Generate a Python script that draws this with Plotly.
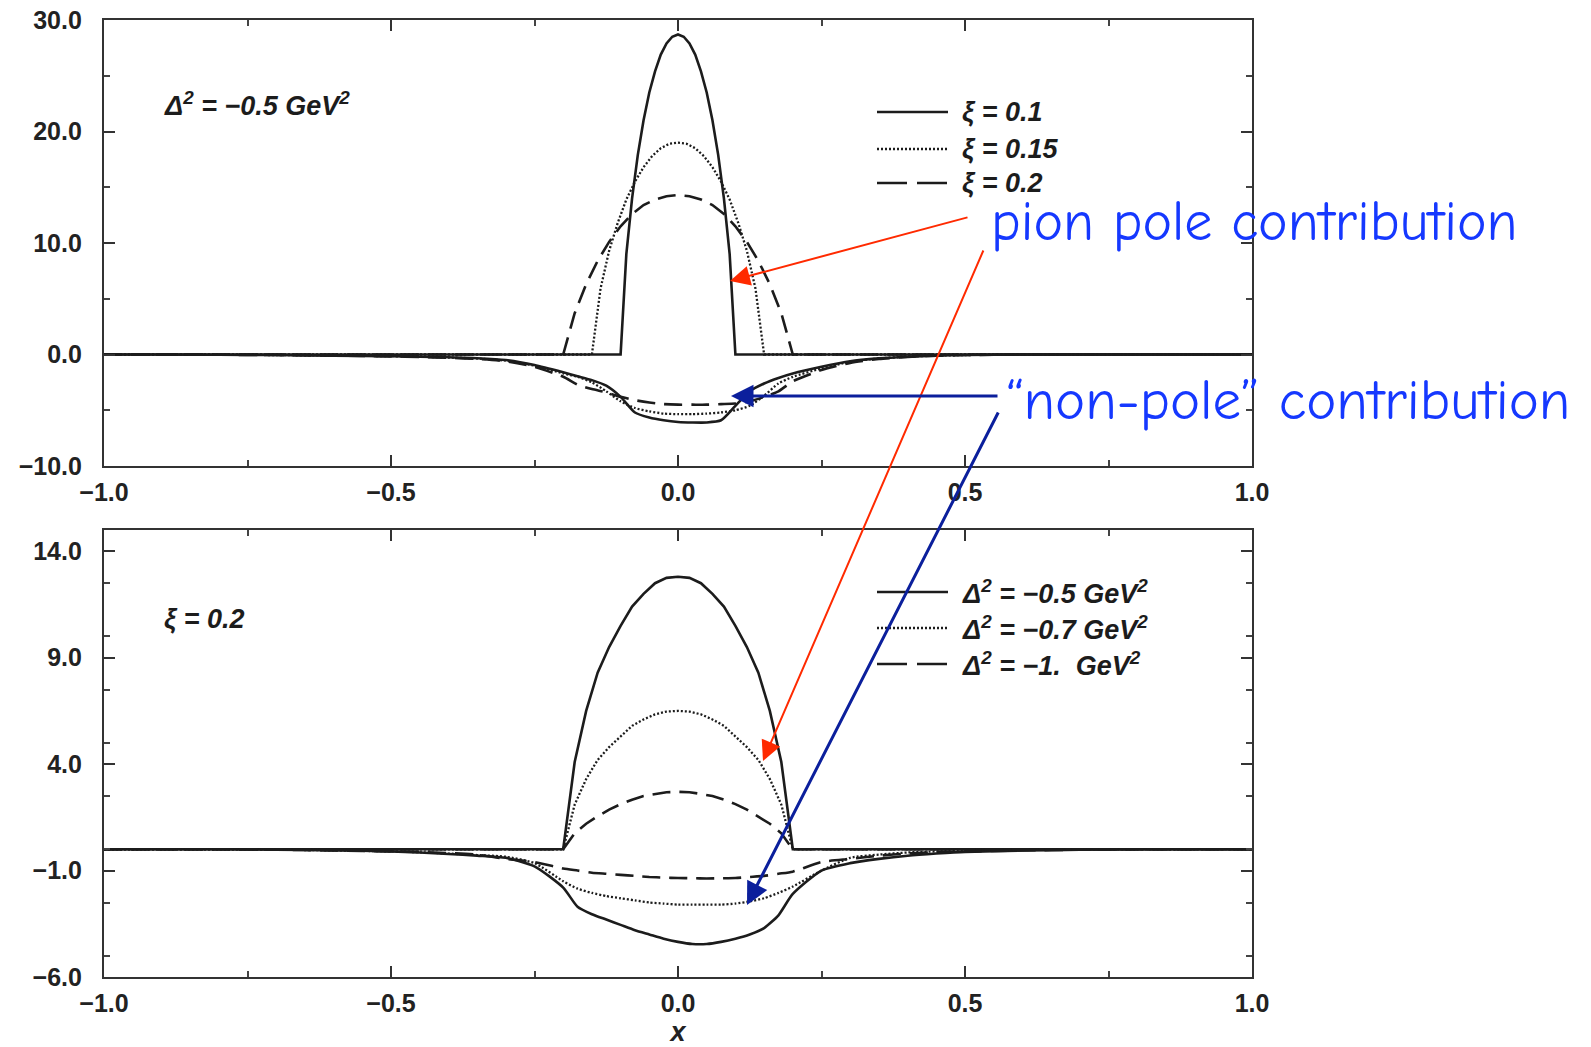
import plotly.graph_objects as go

W, H = 1591, 1047

# ---------------- data ----------------
# common x grid for the "non-pole" (negative) contributions
x_np = [-1.0, -0.9, -0.8, -0.7, -0.6, -0.5, -0.45, -0.4, -0.35, -0.3,
        -0.25, -0.2, -0.175, -0.15, -0.125, -0.1, -0.075, -0.05, -0.025, 0.0,
        0.025, 0.05, 0.075, 0.1, 0.125, 0.15, 0.175, 0.2, 0.25, 0.3,
        0.35, 0.4, 0.45, 0.5, 0.6, 0.7, 0.8, 0.9, 1.0]

# top panel: Delta^2 = -0.5 GeV^2, xi = 0.1 / 0.15 / 0.2
x_pole_xi010 = [-1.0, -0.10, -0.09, -0.08, -0.07, -0.06, -0.05, -0.04, -0.03, -0.02, -0.01, 0.0,
                0.01, 0.02, 0.03, 0.04, 0.05, 0.06, 0.07, 0.08, 0.09, 0.10, 1.0]
y_pole_xi010 = [0, 0, 9.0, 14.0, 17.9, 21.0, 23.5, 25.4, 26.9, 27.9, 28.5, 28.7,
                28.5, 27.9, 26.9, 25.4, 23.5, 21.0, 17.9, 14.0, 9.0, 0, 0]

x_pole_xi015 = [-1.0, -0.15, -0.135, -0.12, -0.105, -0.09, -0.075, -0.06, -0.045, -0.03, -0.015, 0.0,
                0.015, 0.03, 0.045, 0.06, 0.075, 0.09, 0.105, 0.12, 0.135, 0.15, 1.0]
y_pole_xi015 = [0, 0, 5.9, 9.3, 11.8, 13.9, 15.5, 16.8, 17.8, 18.5, 18.9, 19.0,
                18.9, 18.5, 17.8, 16.8, 15.5, 13.9, 11.8, 9.3, 5.9, 0, 0]

x_pole_xi020 = [-1.0, -0.20, -0.18, -0.16, -0.14, -0.12, -0.10, -0.08, -0.06, -0.04, -0.02, 0.0,
                0.02, 0.04, 0.06, 0.08, 0.10, 0.12, 0.14, 0.16, 0.18, 0.20, 1.0]
y_pole_xi020 = [0, 0, 3.7, 6.3, 8.4, 10.1, 11.5, 12.6, 13.4, 13.9, 14.2, 14.3,
                14.2, 13.9, 13.4, 12.6, 11.5, 10.1, 8.4, 6.3, 3.7, 0, 0]

y_np_xi010 = [0, 0, -0.02, -0.05, -0.1, -0.15, -0.2, -0.25, -0.33, -0.5,
              -0.95, -1.6, -1.95, -2.3, -2.8, -3.8, -5.2, -5.65, -5.9, -6.05,
              -6.1, -6.1, -5.9, -4.6, -3.3, -2.6, -2.1, -1.7, -1.1, -0.6,
              -0.35, -0.2, -0.1, -0.05, 0, 0, 0, 0, 0]
y_np_xi015 = [0, 0, -0.02, -0.05, -0.1, -0.15, -0.2, -0.27, -0.36, -0.55,
              -1.0, -1.7, -2.0, -2.5, -3.3, -4.2, -4.8, -5.1, -5.3, -5.35,
              -5.35, -5.3, -5.2, -5.0, -4.6, -3.7, -2.6, -2.0, -1.25, -0.65,
              -0.35, -0.2, -0.1, -0.05, 0, 0, 0, 0, 0]
y_np_xi020 = [0, 0, -0.02, -0.05, -0.1, -0.17, -0.22, -0.3, -0.4, -0.6,
              -1.1, -2.0, -2.7, -3.1, -3.4, -3.8, -4.1, -4.3, -4.45, -4.5,
              -4.5, -4.5, -4.45, -4.4, -4.2, -3.8, -3.3, -2.4, -1.4, -0.75,
              -0.4, -0.22, -0.1, -0.05, 0, 0, 0, 0, 0]

# bottom panel: xi = 0.2, Delta^2 = -0.5 / -0.7 / -1.0 GeV^2
x_pole_b = [-1.0, -0.20, -0.18, -0.16, -0.14, -0.12, -0.10, -0.08, -0.06, -0.04, -0.02, 0.0,
            0.02, 0.04, 0.06, 0.08, 0.10, 0.12, 0.14, 0.16, 0.18, 0.20, 1.0]
y_pole_d05 = [0, 0, 4.1, 6.5, 8.3, 9.5, 10.5, 11.4, 12.0, 12.5, 12.75, 12.8,
              12.75, 12.5, 12.0, 11.4, 10.5, 9.5, 8.3, 6.5, 4.1, 0, 0]
y_pole_d07 = [0, 0, 2.1, 3.3, 4.2, 4.8, 5.3, 5.8, 6.1, 6.34, 6.47, 6.5,
              6.47, 6.34, 6.1, 5.8, 5.3, 4.8, 4.2, 3.3, 2.1, 0, 0]
y_pole_d10 = [0, 0, 0.75, 1.2, 1.55, 1.86, 2.12, 2.33, 2.5, 2.6, 2.68, 2.7,
              2.68, 2.6, 2.5, 2.33, 2.12, 1.86, 1.55, 1.2, 0.75, 0, 0]

y_np_d05 = [0, 0, 0, -0.02, -0.05, -0.1, -0.15, -0.22, -0.3, -0.4,
            -0.8, -1.8, -2.7, -3.05, -3.3, -3.55, -3.8, -4.0, -4.2, -4.35,
            -4.45, -4.45, -4.35, -4.2, -4.0, -3.7, -3.1, -2.1, -1.0, -0.65,
            -0.45, -0.3, -0.2, -0.12, -0.06, -0.02, 0, 0, 0]
y_np_d07 = [0, 0, 0, -0.02, -0.05, -0.1, -0.14, -0.2, -0.27, -0.35,
            -0.65, -1.5, -1.85, -2.05, -2.2, -2.3, -2.4, -2.5, -2.55, -2.6,
            -2.6, -2.6, -2.6, -2.55, -2.45, -2.3, -2.05, -1.75, -1.0, -0.4,
            -0.25, -0.15, -0.1, -0.07, -0.03, 0, 0, 0, 0]
y_np_d10 = [0, 0, 0, -0.02, -0.05, -0.1, -0.13, -0.18, -0.25, -0.45,
            -0.6, -0.9, -1.0, -1.1, -1.15, -1.2, -1.25, -1.3, -1.33, -1.35,
            -1.36, -1.37, -1.36, -1.35, -1.3, -1.25, -1.15, -1.05, -0.6, -0.45,
            -0.3, -0.2, -0.13, -0.1, -0.05, -0.02, 0, 0, 0]

top_labels = ["ξ = 0.1", "ξ = 0.15", "ξ = 0.2"]
bot_labels = ["Δ<sup>2</sup> = −0.5 GeV<sup>2</sup>", "Δ<sup>2</sup> = −0.7 GeV<sup>2</sup>",
              "Δ<sup>2</sup> = −1.  GeV<sup>2</sup>"]

# ---------------- styles ----------------
INK = "#1c1c1c"
STY = [dict(color=INK, width=2.6, dash="solid"),
       dict(color=INK, width=2.3, dash="2px,2px"),
       dict(color=INK, width=2.6, dash="18px,9px")]

fig = go.Figure()

top_pole = [(x_pole_xi010, y_pole_xi010), (x_pole_xi015, y_pole_xi015), (x_pole_xi020, y_pole_xi020)]
top_np = [y_np_xi010, y_np_xi015, y_np_xi020]
bot_pole = [(x_pole_b, y_pole_d05), (x_pole_b, y_pole_d07), (x_pole_b, y_pole_d10)]
bot_np = [y_np_d05, y_np_d07, y_np_d10]

for i in range(3):
    xp, yp = top_pole[i]
    fig.add_trace(go.Scatter(x=xp, y=yp, mode="lines", line=STY[i], name=top_labels[i],
                             xaxis="x", yaxis="y", showlegend=False))
    fig.add_trace(go.Scatter(x=x_np, y=top_np[i], mode="lines", line=dict(STY[i], shape="spline", smoothing=0.6),
                             name=top_labels[i], xaxis="x", yaxis="y", showlegend=False))
    xp, yp = bot_pole[i]
    fig.add_trace(go.Scatter(x=xp, y=yp, mode="lines", line=STY[i], name=bot_labels[i],
                             xaxis="x2", yaxis="y2", showlegend=False))
    fig.add_trace(go.Scatter(x=x_np, y=bot_np[i], mode="lines", line=dict(STY[i], shape="spline", smoothing=0.6),
                             name=bot_labels[i], xaxis="x2", yaxis="y2", showlegend=False))

# ---------------- axes ----------------
X0, X1 = 104 / W, 1252 / W
TOP_DOM = [1 - 466 / H, 1 - 20 / H]
BOT_DOM = [1 - 977 / H, 1 - 530 / H]
TICKFONT = dict(family="Liberation Sans, Arial, sans-serif", size=25, color="#222", weight="bold")

def xax(anchor, title=None):
    d = dict(domain=[X0, X1], range=[-1, 1], anchor=anchor, tick0=-1, dtick=0.5,
             tickformat=".1f", ticks="inside", ticklen=11, tickwidth=1.8, tickcolor="#333",
             minor=dict(ticks="inside", dtick=0.25, ticklen=6, tickwidth=1.5, tickcolor="#444"),
             showline=True, linecolor="#333", linewidth=2.2, mirror="ticks",
             showgrid=False, zeroline=False, tickfont=TICKFONT, ticklabelstandoff=3,
             automargin=False)
    if title:
        d["title"] = dict(text=title, standoff=4,
                          font=dict(family="Liberation Sans, Arial, sans-serif", size=27,
                                    color="#222", weight="bold", style="italic"))
    return d

def yax(anchor, rng, tick0, dtick, mdtick):
    return dict(domain=None, range=rng, anchor=anchor, tick0=tick0, dtick=dtick,
                tickformat=".1f", ticks="inside", ticklen=11, tickwidth=1.8, tickcolor="#333",
                minor=dict(ticks="inside", dtick=mdtick, ticklen=6, tickwidth=1.5, tickcolor="#444"),
                showline=True, linecolor="#333", linewidth=2.2, mirror="ticks",
                showgrid=False, zeroline=False, tickfont=TICKFONT, ticklabelstandoff=15,
                automargin=False)

ya = yax("x", [-10, 30], -10, 10, 5); ya["domain"] = TOP_DOM
yb = yax("x2", [-6, 15], -6, 5, 2.5); yb["domain"] = BOT_DOM

fig.update_layout(
    width=W, height=H, margin=dict(l=0, r=0, t=0, b=0),
    paper_bgcolor="white", plot_bgcolor="white", showlegend=False,
    xaxis=xax("y"), yaxis=ya,
    xaxis2=xax("y2", title="x"), yaxis2=yb,
)

# ---------------- legends (drawn) & panel labels ----------------
LABFONT = dict(family="Liberation Sans, Arial, sans-serif", size=27, color="#1c1c1c",
               weight="bold", style="italic")
shapes = []
annos = []
for rows, labels in (([112, 149, 183], top_labels), ([592, 628, 664], bot_labels)):
    for i, yy in enumerate(rows):
        st = STY[i]
        shapes.append(dict(type="line", xref="paper", yref="paper",
                           x0=877 / W, x1=948 / W, y0=1 - yy / H, y1=1 - yy / H,
                           line=dict(color=st["color"], width=st["width"],
                                     dash="30px,10px" if i == 2 else st["dash"])))
        annos.append(dict(xref="paper", yref="paper", x=960 / W, y=1 - yy / H,
                          xanchor="left", yanchor="middle", showarrow=False,
                          text=labels[i], font=LABFONT))

annos.append(dict(xref="paper", yref="paper", x=162 / W, y=1 - 104 / H, xanchor="left",
                  yanchor="middle", showarrow=False,
                  text="Δ<sup>2</sup> = −0.5 GeV<sup>2</sup>", font=LABFONT))
annos.append(dict(xref="paper", yref="paper", x=162 / W, y=1 - 619 / H, xanchor="left",
                  yanchor="middle", showarrow=False, text="ξ = 0.2", font=LABFONT))

# ---------------- overlay annotations ----------------
BLUE_TXT = "#1538ff"
RED = "#ff2a00"
NAVY = "#0b1f9c"
OVFONT = dict(family="Comic Sans MS, Comic Neue, Lato, sans-serif", size=56, color=BLUE_TXT)
annos.append(dict(xref="paper", yref="paper", x=989 / W, y=1 - 222 / H, xanchor="left",
                  yanchor="middle", showarrow=False, text="pion pole contribution", font=OVFONT))
annos.append(dict(xref="paper", yref="paper", x=1004 / W, y=1 - 400 / H, xanchor="left",
                  yanchor="middle", showarrow=False, text="“non-pole” contribution",
                  font=dict(OVFONT, size=57)))

def arrow(hx, hy, tx, ty, color, width, size):
    return dict(xref="paper", yref="paper", x=hx / W, y=1 - hy / H, ax=tx - hx, ay=ty - hy,
                axref="pixel", ayref="pixel", text="", showarrow=True, arrowhead=2,
                arrowsize=size, arrowwidth=width, arrowcolor=color, standoff=0, startstandoff=0)

annos.append(arrow(730, 281, 969, 217, RED, 2, 2.0))
annos.append(arrow(763, 761, 984, 249, RED, 2, 2.0))
annos.append(arrow(731, 396, 999, 396, NAVY, 3, 1.5))
annos.append(arrow(747, 905, 999, 411, NAVY, 3, 1.5))

fig.update_layout(shapes=shapes, annotations=annos)

fig.write_html("out.html")
